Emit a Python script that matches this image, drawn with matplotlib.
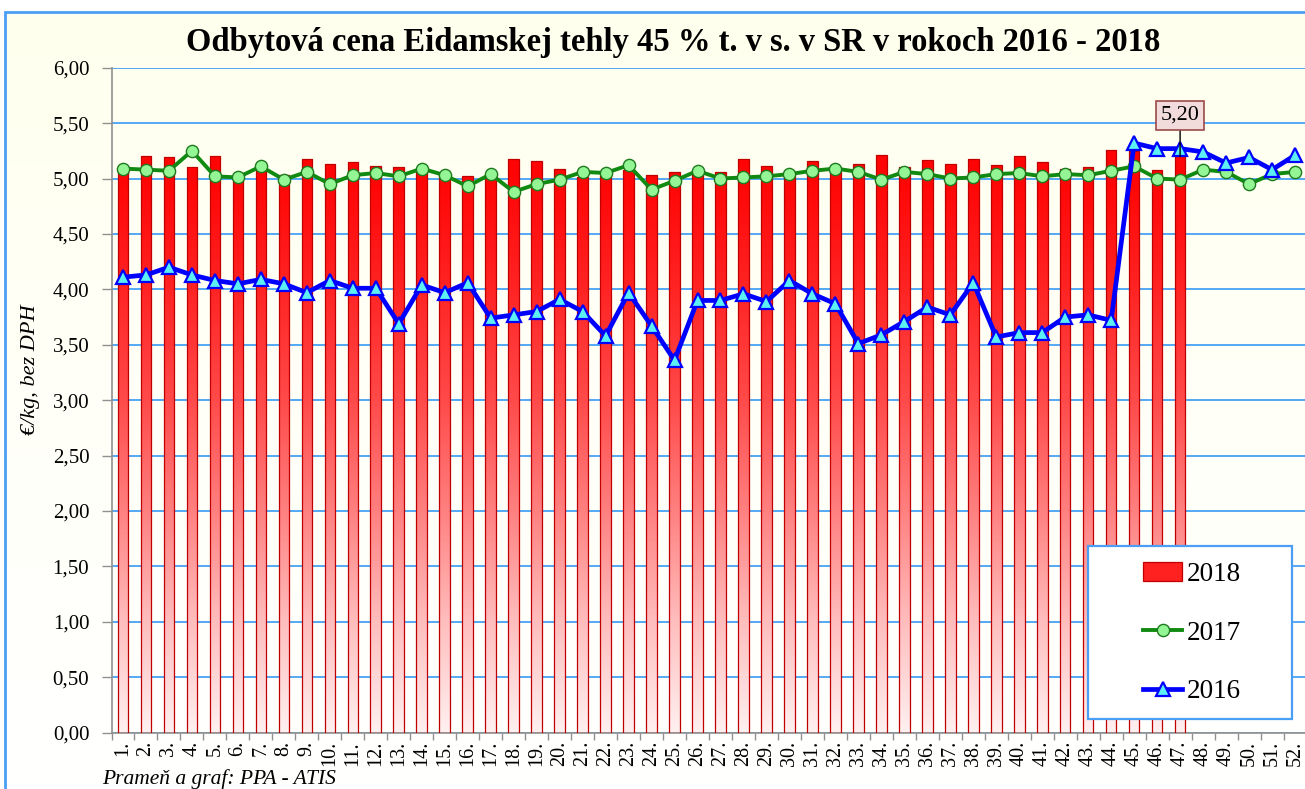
import numpy as np
import matplotlib
matplotlib.use("Agg")
import matplotlib.pyplot as plt
from matplotlib.colors import LinearSegmentedColormap
from matplotlib.patches import Rectangle
from matplotlib.lines import Line2D
from matplotlib.patches import Patch

plt.rcParams['font.family'] = ['Liberation Serif', 'DejaVu Serif']

weeks = [f"{i}." for i in range(1, 53)]

v2018 = [5.08, 5.20, 5.19, 5.10, 5.20, 5.01, 5.08, 5.03, 5.18, 5.13,
         5.15, 5.11, 5.10, 5.08, 5.05, 5.02, 5.03, 5.18, 5.16, 5.09,
         5.01, 5.03, 5.08, 5.03, 5.06, 5.06, 5.06, 5.18, 5.11, 5.03,
         5.16, 5.10, 5.13, 5.21, 5.10, 5.17, 5.13, 5.18, 5.12, 5.20,
         5.15, 5.09, 5.10, 5.26, 5.25, 5.08, 5.20]

v2017 = [5.09, 5.08, 5.07, 5.25, 5.02, 5.01, 5.11, 4.99, 5.06, 4.95,
         5.03, 5.05, 5.02, 5.09, 5.03, 4.93, 5.04, 4.88, 4.95, 4.99,
         5.06, 5.05, 5.12, 4.90, 4.98, 5.07, 5.00, 5.01, 5.02, 5.04,
         5.07, 5.09, 5.06, 4.99, 5.06, 5.04, 5.00, 5.01, 5.04, 5.05,
         5.02, 5.04, 5.03, 5.07, 5.11, 5.00, 4.99, 5.08, 5.06, 4.95,
         5.04, 5.06]

v2016 = [4.11, 4.13, 4.20, 4.13, 4.08, 4.05, 4.09, 4.05, 3.97, 4.08,
         4.01, 4.01, 3.69, 4.04, 3.97, 4.06, 3.74, 3.77, 3.80, 3.91,
         3.80, 3.58, 3.97, 3.67, 3.36, 3.90, 3.90, 3.96, 3.89, 4.08,
         3.96, 3.87, 3.51, 3.59, 3.71, 3.84, 3.77, 4.06, 3.57, 3.61,
         3.61, 3.75, 3.77, 3.72, 5.32, 5.27, 5.27, 5.24, 5.14, 5.19,
         5.08, 5.21]

series_labels = ["2018", "2017", "2016"]
title = "Odbytová cena Eidamskej tehly 45 % t. v s. v SR v rokoch 2016 - 2018"
ylabel = "€/kg, bez DPH"
source = "Prameň a graf: PPA - ATIS"
label_week = 47
label_text = "5,20"

W, H = 1305, 789
fig = plt.figure(figsize=(W / 100, H / 100), dpi=100)
fig.patch.set_facecolor('white')

def fx(px):
    return px / W

def fy(py):
    return 1 - py / H

# background gradient (cream top -> white bottom)
bg = fig.add_axes([fx(4), 0, 1 - fx(4), fy(11)], zorder=-10)
bg.set_axis_off()
bgcmap = LinearSegmentedColormap.from_list('bg', ['#FFFFFF', '#FFFFF8', '#FFFFEE'])
bg.imshow(np.linspace(0, 1, 256).reshape(-1, 1), cmap=bgcmap, aspect='auto',
          origin='lower', extent=[0, 1, 0, 1])
# outer border
fig.patches.append(Rectangle((fx(4.5), fy(800)), 1.1, fy(11.5) - fy(800),
                             transform=fig.transFigure, fill=False,
                             edgecolor='#4A9FF5', lw=2, zorder=-5))

ax = fig.add_axes([fx(111.5), fy(732.7), fx(1306.5) - fx(111.5), fy(67.7) - fy(732.7)])
ax.set_facecolor('none')

x = np.arange(len(weeks))
n18 = len(v2018)

# gradient bars
cmap = LinearSegmentedColormap.from_list(
    'redgrad',
    [(0.0, '#FFF0F0'), (1.0 / 6, '#FFBDBD'), (2.0 / 6, '#FF8080'),
     (3.0 / 6, '#FF4A4A'), (4.0 / 6, '#FF2424'), (5.0 / 6, '#FF0505'), (1.0, '#FF0000')])
bars = ax.bar(x[:n18], v2018, width=0.46, color='none', edgecolor='#C00000',
              linewidth=0.9, zorder=3)
grad = np.linspace(0, 1, 256).reshape(-1, 1)
for b in bars:
    im = ax.imshow(grad, cmap=cmap, extent=[b.get_x(), b.get_x() + b.get_width(), 0, 6],
                   origin='lower', aspect='auto', zorder=2.5, vmin=0, vmax=1,
                   interpolation='bilinear')
    im.set_clip_path(b)

ax.plot(x, v2017, color='#108A10', lw=2.8, marker='o', markersize=8.8,
        markerfacecolor='#94F594', markeredgecolor='#1E7A1E', markeredgewidth=1.0,
        zorder=4)
ax.plot(x, v2016, color='#0000FF', lw=3.4, marker='^', markersize=10,
        markerfacecolor='#5CF0F5', markeredgecolor='#0000FF', markeredgewidth=1.6,
        zorder=5)

ax.set_xlim(-0.5, len(weeks) - 0.5)
ax.set_ylim(0, 6)
ax.set_yticks(np.arange(0, 6.01, 0.5))
ax.set_yticklabels([f"{v:.2f}".replace('.', ',') for v in np.arange(0, 6.01, 0.5)],
                   fontsize=15)
ax.set_xticks(x)
ax.set_xticklabels(weeks, rotation=90, fontsize=14.5)
ax.set_xticks(np.arange(-0.5, len(weeks), 1), minor=True)
ax.tick_params(axis='x', which='major', length=0, pad=6)
ax.tick_params(axis='x', which='minor', length=5, color='#909090', width=1)
ax.tick_params(axis='y', length=7, color='#909090', width=1, pad=9)
ax.yaxis.grid(True, color='#55A8F5', lw=1.4)
ax.set_axisbelow(True)
for s in ['top', 'right']:
    ax.spines[s].set_visible(False)
ax.spines['left'].set_color('#909090')
ax.spines['bottom'].set_color('#909090')
ax.spines['left'].set_linewidth(1.2)
ax.spines['bottom'].set_linewidth(1.2)

# data label
li = label_week - 1
ax.annotate(label_text, xy=(x[li], v2018[li]), xytext=(x[li], 5.57),
            ha='center', va='center', fontsize=16,
            bbox=dict(boxstyle='square,pad=0.22', fc='#F2DCDB', ec='#9B4A4A', lw=1.2),
            arrowprops=dict(arrowstyle='-', color='black', lw=1.0, shrinkA=0, shrinkB=0),
            zorder=8)

# legend frame
ax.add_patch(Rectangle((fx(1088.3), fy(719.3)), fx(1292.3) - fx(1088.3), fy(546) - fy(719.3),
                       transform=fig.transFigure, facecolor='white', edgecolor='#4A9FF5',
                       lw=1.6, zorder=6))
handles = [
    Patch(facecolor='#FF2020', edgecolor='#C00000', lw=0.9),
    Line2D([0], [0], color='#108A10', lw=2.8, marker='o', markersize=8.8,
           markerfacecolor='#94F594', markeredgecolor='#1E7A1E'),
    Line2D([0], [0], color='#0000FF', lw=3.4, marker='^', markersize=10,
           markerfacecolor='#5CF0F5', markeredgecolor='#0000FF', markeredgewidth=1.6),
]
leg = ax.legend(handles, series_labels, loc='center left',
                bbox_to_anchor=(fx(1143), fy(633)), bbox_transform=fig.transFigure,
                frameon=False, fontsize=19.5, handlelength=1.45, handletextpad=0.15,
                labelspacing=1.25, borderpad=0, borderaxespad=0)
leg.set_zorder(7)

fig.text(fx(673), fy(42), title, ha='center', va='center', fontsize=23.5, fontweight='bold')
fig.text(fx(30), fy(370), ylabel, ha='center', va='center', rotation=90,
         fontsize=16, style='italic')
fig.text(fx(102), fy(779), source, ha='left', va='center', fontsize=15.5, style='italic')

fig.savefig('out.png', dpi=100, facecolor=fig.get_facecolor())
